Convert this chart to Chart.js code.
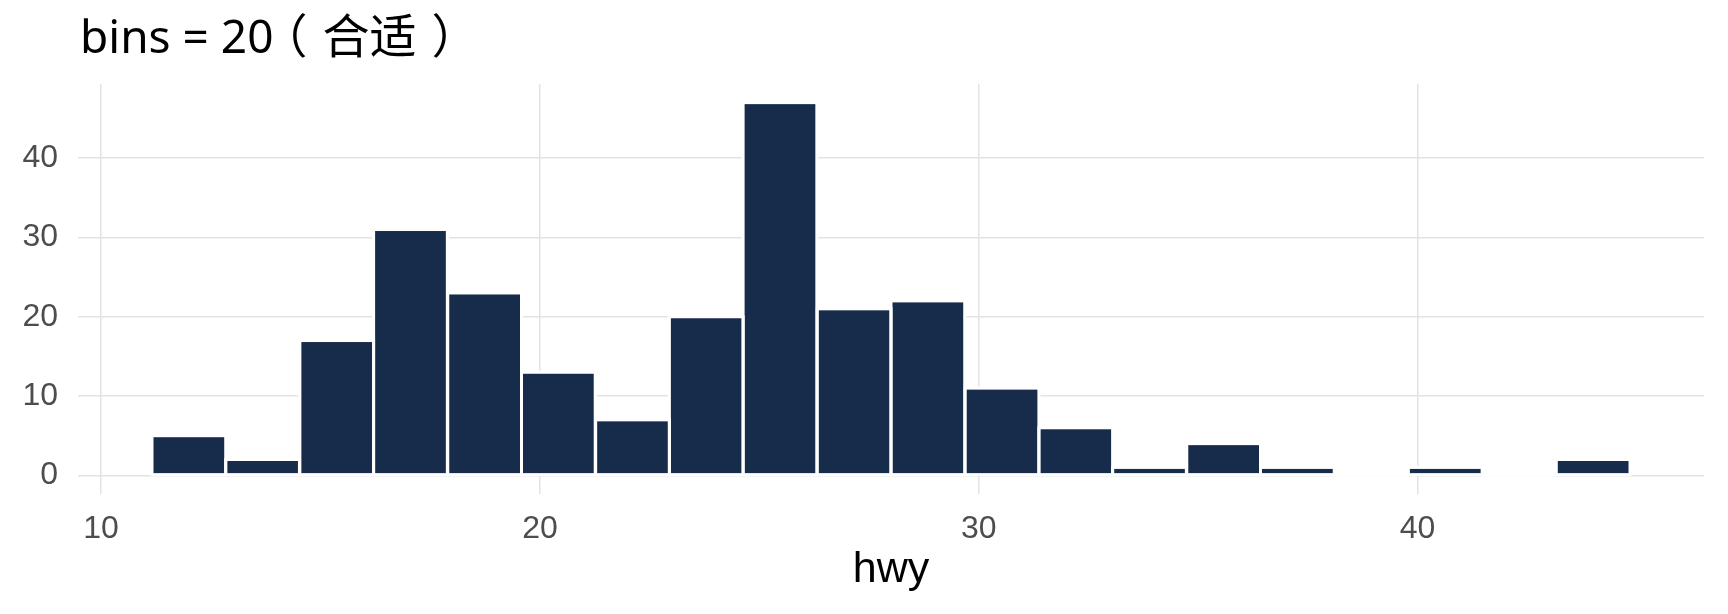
<!DOCTYPE html>
<html>
<head>
<meta charset="utf-8">
<script src="https://cdn.jsdelivr.net/npm/chart.js@4"></script>
<style>
  body { margin: 0; background: #ffffff; }
  #wrap { width: 1728px; height: 614px; }
</style>
</head>
<body>
<div id="wrap"><canvas id="histChart" width="1728" height="614"></canvas></div>
<script>
// Données (hwy, bins = 20)
const titleParts = ['bins = 20', '（', '合适', '）'];
const xTitle = 'hwy';
const binCenters = [12.00, 13.68, 15.37, 17.05, 18.74, 20.42, 22.11, 23.79, 25.47, 27.16,
                    28.84, 30.53, 32.21, 33.89, 35.58, 37.26, 38.95, 40.63, 42.32, 44.00];
const counts = [5, 2, 17, 31, 23, 13, 7, 20, 47, 21, 22, 11, 6, 1, 4, 1, 0, 1, 0, 2];
const xTicks = [10, 20, 30, 40];
const yTicks = [0, 10, 20, 30, 40];

const BAR_COLOR = '#172b4a';
const GRID_COLOR = '#e3e3e3';
const TICK_COLOR = '#4d4d4d';

// Titre du graphique (parenthèses pleine chasse centrées dans leur cadratin)
const titlePlugin = {
    id: 'plotTitle',
    afterDraw(chart) {
        const ctx = chart.ctx;
        const em = 47;
        const latinFont = '46px "Noto Sans", sans-serif';
        const cjkFont = em + 'px "Noto Sans CJK SC", sans-serif';
        const baseY = 53;
        let x = 80;
        ctx.save();
        ctx.fillStyle = '#000000';
        ctx.textAlign = 'left';
        ctx.textBaseline = 'alphabetic';

        ctx.font = latinFont;
        ctx.fillText(titleParts[0], x, baseY);
        x += ctx.measureText(titleParts[0]).width + 2;

        ctx.font = cjkFont;
        const drawCentered = (ch, boxLeft) => {
            const m = ctx.measureText(ch);
            const inkW = m.actualBoundingBoxRight + m.actualBoundingBoxLeft;
            const px = boxLeft + em / 2 - inkW / 2 + m.actualBoundingBoxLeft;
            ctx.fillText(ch, px, baseY);
        };
        drawCentered(titleParts[1], x);
        x += em;
        ctx.fillText(titleParts[2], x, baseY);
        x += ctx.measureText(titleParts[2]).width;
        drawCentered(titleParts[3], x);
        ctx.restore();
    }
};

// Contour blanc centré sur les bords des barres (comme ggplot)
const outlinePlugin = {
    id: 'barOutline',
    afterDatasetsDraw(chart) {
        const ctx = chart.ctx;
        const meta = chart.getDatasetMeta(0);
        ctx.save();
        ctx.strokeStyle = '#ffffff';
        ctx.lineWidth = 3;
        meta.data.forEach(el => {
            const { x, y, base, width } = el.getProps(['x', 'y', 'base', 'width'], true);
            ctx.strokeRect(x - width / 2, y, width, base - y);
        });
        ctx.restore();
    }
};

const points = binCenters.map((c, i) => ({ x: c, y: counts[i] }));

new Chart(document.getElementById('histChart').getContext('2d'), {
    type: 'bar',
    data: {
        datasets: [{
            data: points,
            backgroundColor: BAR_COLOR,
            borderWidth: 0,
            barPercentage: 1,
            categoryPercentage: 1
        }]
    },
    options: {
        responsive: false,
        animation: false,
        layout: { padding: { top: 84, left: 0, right: 24, bottom: 0 } },
        plugins: {
            legend: { display: false },
            tooltip: { enabled: false }
        },
        scales: {
            x: {
                type: 'linear',
                offset: false,
                min: 9.474,
                max: 46.526,
                afterBuildTicks: axis => { axis.ticks = xTicks.map(v => ({ value: v })); },
                afterFit: axis => { axis.height = 120; },
                border: { display: false },
                grid: { color: GRID_COLOR, lineWidth: 1.5, drawTicks: false, offset: false },
                ticks: {
                    color: TICK_COLOR,
                    padding: 16,
                    maxRotation: 0,
                    font: { family: '"Liberation Sans", Arial, sans-serif', size: 32 }
                },
                title: {
                    display: true,
                    text: xTitle,
                    color: '#000000',
                    padding: { top: 0, bottom: 18 },
                    font: { family: '"Liberation Sans", Arial, sans-serif', size: 43 }
                }
            },
            y: {
                min: -2.35,
                max: 49.35,
                afterBuildTicks: axis => { axis.ticks = yTicks.map(v => ({ value: v })); },
                afterFit: axis => { axis.width = 78; },
                border: { display: false },
                grid: { color: GRID_COLOR, lineWidth: 1.5, drawTicks: false },
                ticks: {
                    color: TICK_COLOR,
                    padding: 20,
                    font: { family: '"Liberation Sans", Arial, sans-serif', size: 32 }
                }
            }
        }
    },
    plugins: [titlePlugin, outlinePlugin]
});
</script>
</body>
</html>
